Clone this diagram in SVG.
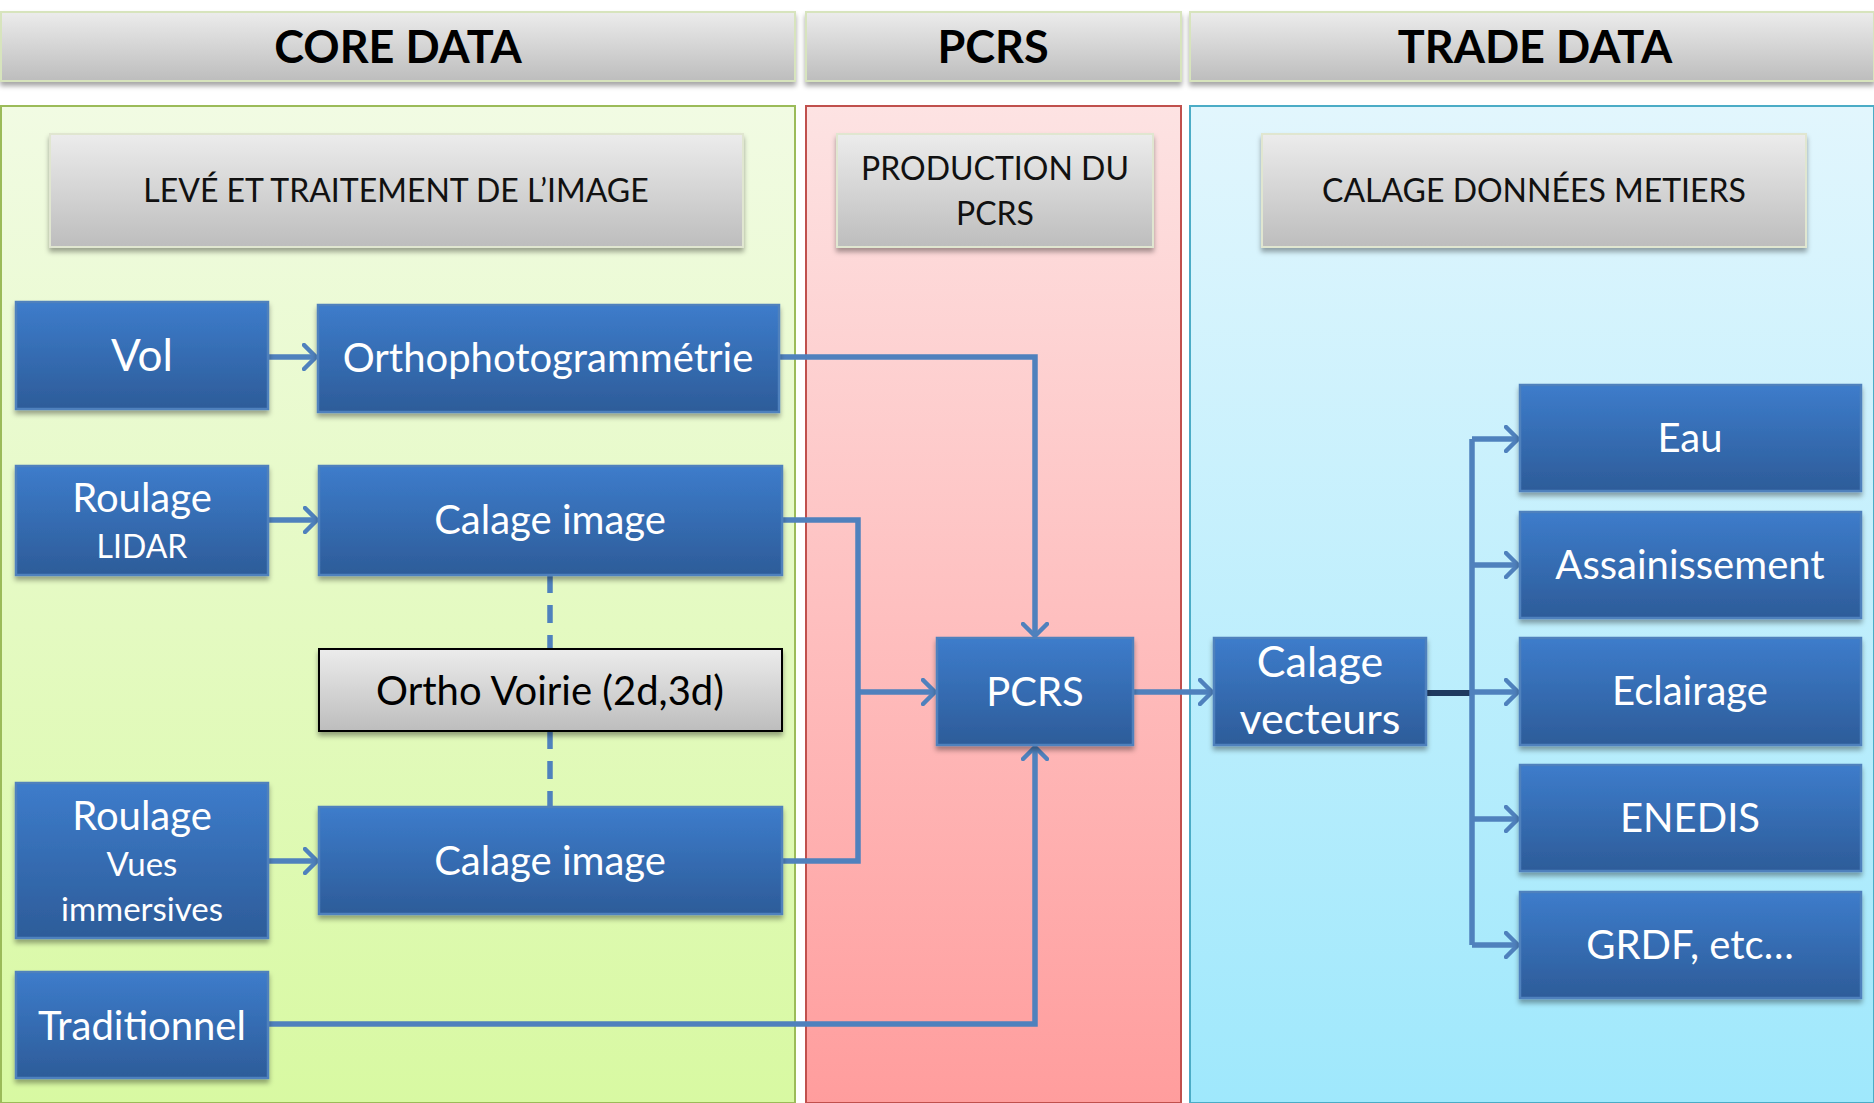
<svg xmlns="http://www.w3.org/2000/svg" width="1874" height="1103" viewBox="0 0 1874 1103">
<defs>
<linearGradient id="gGray" x1="0" y1="0" x2="0" y2="1"><stop offset="0" stop-color="#ececec"/><stop offset="1" stop-color="#bdbdbd"/></linearGradient>
<linearGradient id="gBlue" x1="0" y1="0" x2="0" y2="1"><stop offset="0" stop-color="#3d7ccb"/><stop offset="1" stop-color="#2d5c99"/></linearGradient>
<linearGradient id="gGreen" x1="0" y1="0" x2="0" y2="1"><stop offset="0" stop-color="#f1fbe3"/><stop offset="1" stop-color="#d8f9a2"/></linearGradient>
<linearGradient id="gRed" x1="0" y1="0" x2="0" y2="1"><stop offset="0" stop-color="#fde3e3"/><stop offset="1" stop-color="#ff9d9d"/></linearGradient>
<linearGradient id="gCyan" x1="0" y1="0" x2="0" y2="1"><stop offset="0" stop-color="#e2f6fd"/><stop offset="1" stop-color="#9fe8fc"/></linearGradient>
<filter id="sh" x="-5%" y="-10%" width="110%" height="130%"><feDropShadow dx="0" dy="4" stdDeviation="2.5" flood-color="#000" flood-opacity="0.35"/></filter>
<marker id="arr" viewBox="0 0 16 28" refX="14" refY="14" markerWidth="16" markerHeight="28" markerUnits="userSpaceOnUse" orient="auto">
<path d="M2,2 L14,14 L2,26" fill="none" stroke="#4f81bd" stroke-width="4.5" stroke-linecap="round" stroke-linejoin="round"/>
</marker>
</defs>
<style>
.hdr{fill:url(#gGray);stroke:#d7e4bd;stroke-width:2;filter:url(#sh)}
.sub{fill:url(#gGray);stroke:#e0e6d0;stroke-width:2;filter:url(#sh)}
.blue{fill:url(#gBlue);stroke:#4f81bd;stroke-width:2.5;filter:url(#sh)}
.ht{font-family:Lato,"Liberation Sans",sans-serif;font-weight:bold;font-size:45px;fill:#000;text-anchor:middle}
.st{font-family:Lato,"Liberation Sans",sans-serif;font-size:32px;fill:#111;text-anchor:middle}
.bt{font-family:Lato,"Liberation Sans",sans-serif;font-size:40px;fill:#fff;text-anchor:middle}
.sm{font-size:33px}
.md{font-size:40px}
.con{fill:none;stroke:#4f81bd;stroke-width:5.5}
</style>
<rect width="1874" height="1103" fill="#fff"/>
<g id="headers">
<rect class="hdr" x="1" y="12" width="794" height="69"/>
<text class="ht" x="398" y="63">CORE DATA</text>
<rect class="hdr" x="806" y="12" width="375" height="69"/>
<text class="ht" x="993" y="63">PCRS</text>
<rect class="hdr" x="1190" y="12" width="684" height="69"/>
<text class="ht" x="1535" y="63">TRADE DATA</text>
</g>
<g id="panels">
<rect x="1" y="106" width="794" height="997" fill="url(#gGreen)" stroke="#9bbb59" stroke-width="2"/>
<rect x="806" y="106" width="375" height="997" fill="url(#gRed)" stroke="#c0504d" stroke-width="2"/>
<rect x="1190" y="106" width="684" height="997" fill="url(#gCyan)" stroke="#4bacc6" stroke-width="2"/>
</g>
<g id="sub-leve"><rect class="sub" x="50" y="134" width="693" height="113"/><text class="st" x="396" y="202">LEVÉ ET TRAITEMENT DE L’IMAGE</text></g>
<g id="sub-prod"><rect class="sub" x="837" y="134" width="316" height="113"/><text class="st" x="995" y="180">PRODUCTION DU</text><text class="st" x="995" y="225">PCRS</text></g>
<g id="sub-calage"><rect class="sub" x="1262" y="134" width="544" height="113"/><text class="st" x="1534" y="202">CALAGE DONNÉES METIERS</text></g>
<g id="connectors">
<line class="con" x1="268" y1="357" x2="316" y2="357" marker-end="url(#arr)"/>
<polyline class="con" points="779,357 1035,357 1035,636" marker-end="url(#arr)"/>
<line class="con" x1="268" y1="520" x2="317" y2="520" marker-end="url(#arr)"/>
<polyline class="con" points="782,520 858,520 858,861 782,861"/>
<line class="con" x1="858" y1="692" x2="935" y2="692" marker-end="url(#arr)"/>
<line class="con" x1="268" y1="861" x2="317" y2="861" marker-end="url(#arr)"/>
<line class="con" x1="550" y1="575" x2="550" y2="649" stroke-dasharray="18,12"/>
<line class="con" x1="550" y1="731" x2="550" y2="807" stroke-dasharray="18,12"/>
<polyline class="con" points="268,1024 1035,1024 1035,747" marker-end="url(#arr)"/>
<line class="con" x1="1133" y1="692" x2="1212" y2="692" marker-end="url(#arr)"/>
<line x1="1426" y1="693" x2="1472" y2="693" stroke="#1f3a5f" stroke-width="6"/>
<line class="con" x1="1472" y1="439" x2="1472" y2="945"/>
<line class="con" x1="1472" y1="439" x2="1518" y2="439" marker-end="url(#arr)"/>
<line class="con" x1="1472" y1="565" x2="1518" y2="565" marker-end="url(#arr)"/>
<line class="con" x1="1472" y1="692" x2="1518" y2="692" marker-end="url(#arr)"/>
<line class="con" x1="1472" y1="819" x2="1518" y2="819" marker-end="url(#arr)"/>
<line class="con" x1="1472" y1="945" x2="1518" y2="945" marker-end="url(#arr)"/>
</g>
<g id="n-vol"><rect class="blue" x="16" y="302" width="252" height="107"/><text class="bt" x="142" y="371" style="font-size:44px">Vol</text></g>
<g id="n-ortho"><rect class="blue" x="318" y="305" width="461" height="107"/><text class="bt" x="548" y="372">Orthophotogrammétrie</text></g>
<g id="n-lidar"><rect class="blue" x="16" y="466" width="252" height="109"/><text class="bt md" x="142" y="512">Roulage</text><text class="bt" x="142" y="558" style="font-size:32px">LIDAR</text></g>
<g id="n-calage1"><rect class="blue" x="319" y="466" width="463" height="109"/><text class="bt" x="550" y="534">Calage image</text></g>
<g id="n-orthovoirie"><rect x="319" y="649" width="463" height="82" fill="url(#gGray)" stroke="#000" stroke-width="2" filter="url(#sh)"/><text class="bt" x="550" y="705" style="fill:#000">Ortho Voirie (2d,3d)</text></g>
<g id="n-vues"><rect class="blue" x="16" y="783" width="252" height="155"/><text class="bt md" x="142" y="830">Roulage</text><text class="bt sm" x="142" y="876">Vues</text><text class="bt sm" x="142" y="921">immersives</text></g>
<g id="n-calage2"><rect class="blue" x="319" y="807" width="463" height="107"/><text class="bt" x="550" y="875">Calage image</text></g>
<g id="n-trad"><rect class="blue" x="16" y="972" width="252" height="106"/><text class="bt" x="142" y="1040">Traditionnel</text></g>
<g id="n-pcrs"><rect class="blue" x="937" y="638" width="196" height="107"/><text class="bt" x="1035" y="706">PCRS</text></g>
<g id="n-calagevect"><rect class="blue" x="1214" y="638" width="212" height="107"/><text class="bt" x="1320" y="677" style="font-size:43px">Calage</text><text class="bt" x="1320" y="734" style="font-size:43px">vecteurs</text></g>
<g id="n-eau"><rect class="blue" x="1520" y="385" width="341" height="106"/><text class="bt" x="1690" y="452">Eau</text></g>
<g id="n-ass"><rect class="blue" x="1520" y="512" width="341" height="106"/><text class="bt" x="1690" y="579">Assainissement</text></g>
<g id="n-ecl"><rect class="blue" x="1520" y="638" width="341" height="107"/><text class="bt" x="1690" y="705">Eclairage</text></g>
<g id="n-enedis"><rect class="blue" x="1520" y="765" width="341" height="106"/><text class="bt" x="1690" y="832">ENEDIS</text></g>
<g id="n-grdf"><rect class="blue" x="1520" y="892" width="341" height="106"/><text class="bt" x="1690" y="959">GRDF, etc…</text></g>
</svg>
